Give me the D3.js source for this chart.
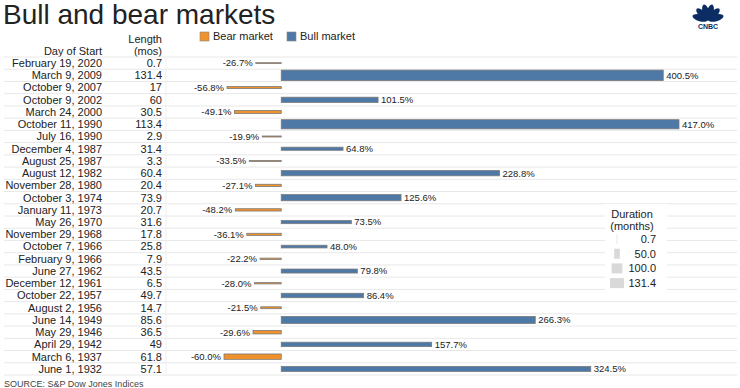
<!DOCTYPE html>
<meta charset="utf-8">
<html>
<head>
  <script src="https://d3js.org/d3.v7.min.js"></script>
</head>
<style>
body { margin: 0; background: white; }
text { font-family: "Liberation Sans", Arial, sans-serif; fill: #222; }
</style>
<body>
<div id="container"></div>
<script type="text/javascript">

var dates = ["February 19, 2020","March 9, 2009","October 9, 2007","October 9, 2002","March 24, 2000",
  "October 11, 1990","July 16, 1990","December 4, 1987","August 25, 1987","August 12, 1982",
  "November 28, 1980","October 3, 1974","January 11, 1973","May 26, 1970","November 29, 1968",
  "October 7, 1966","February 9, 1966","June 27, 1962","December 12, 1961","October 22, 1957",
  "August 2, 1956","June 14, 1949","May 29, 1946","April 29, 1942","March 6, 1937","June 1, 1932"]
var lengths = [0.7,131.4,17,60,30.5,113.4,2.9,31.4,3.3,60.4,20.4,73.9,20.7,31.6,17.8,25.8,7.9,43.5,6.5,49.7,14.7,85.6,36.5,49,61.8,57.1]
var changes = [-26.7,400.5,-56.8,101.5,-49.1,417.0,-19.9,64.8,-33.5,228.8,-27.1,125.6,-48.2,73.5,-36.1,48.0,-22.2,79.8,-28.0,86.4,-21.5,266.3,-29.6,157.7,-60.0,324.5]
var durationTicks = [0.7, 50, 100, 131.4]

var width = 740, height = 388
var rowTop = 57, rowBottom = 375
var bearColor = "#f0922b", bullColor = "#4e79a7"

var svg = d3.select("#container").append("svg")
  .attr("width", width).attr("height", height)

var rows = dates.map((d, i) => ({date: d, len: lengths[i], chg: changes[i]}))

var y = d3.scaleBand().domain(dates).range([rowTop, rowBottom])
var x = d3.scaleLinear().domain([-60, 417]).range([224, 679])
var thick = d3.scaleLinear().domain([0, 131.4]).range([0.8, 10.5])

// title
svg.append("text").attr("x", 3).attr("y", 24)
  .attr("font-size", "28px").text("Bull and bear markets")

// column headers
svg.append("text").attr("x", 102).attr("y", 55).attr("text-anchor", "end")
  .attr("font-size", "11px").text("Day of Start")
svg.append("text").attr("x", 162).attr("y", 43).attr("text-anchor", "end")
  .attr("font-size", "11px").text("Length")
svg.append("text").attr("x", 162).attr("y", 55).attr("text-anchor", "end")
  .attr("font-size", "11px").text("(mos)")

// color legend
var legend = [{name: "Bear market", color: bearColor, x: 200}, {name: "Bull market", color: bullColor, x: 287}]
svg.selectAll(".lg").data(legend).enter().append("rect")
  .attr("x", d => d.x).attr("y", 32).attr("width", 9).attr("height", 9)
  .attr("fill", d => d.color).attr("stroke", "#888").attr("stroke-width", 0.6)
svg.selectAll(".lgt").data(legend).enter().append("text")
  .attr("x", d => d.x + 13).attr("y", 40).attr("font-size", "11px").text(d => d.name)

// gridlines
var bounds = dates.map(d => y(d)).concat([rowBottom])
svg.selectAll(".grid").data(bounds).enter().append("line")
  .attr("x1", 4).attr("x2", 737).attr("y1", d => d).attr("y2", d => d)
  .attr("stroke", "#e8e8e8").attr("stroke-width", 1)
svg.append("line").attr("x1", 166).attr("x2", 166).attr("y1", rowTop).attr("y2", rowBottom)
  .attr("stroke", "#efefef")

// row labels
svg.selectAll(".date").data(rows).enter().append("text")
  .attr("x", 102).attr("y", d => y(d.date) + y.bandwidth() / 2)
  .attr("dy", "0.35em").attr("text-anchor", "end").attr("font-size", "11px")
  .text(d => d.date)
svg.selectAll(".len").data(rows).enter().append("text")
  .attr("x", 162).attr("y", d => y(d.date) + y.bandwidth() / 2)
  .attr("dy", "0.35em").attr("text-anchor", "end").attr("font-size", "11px")
  .text(d => String(d.len))

// bars
svg.selectAll(".bar").data(rows).enter().append("rect")
  .attr("x", d => Math.min(x(0), x(d.chg)))
  .attr("width", d => Math.abs(x(d.chg) - x(0)))
  .attr("y", d => y(d.date) + y.bandwidth() / 2 - thick(d.len) / 2)
  .attr("height", d => thick(d.len))
  .attr("fill", d => d.chg < 0 ? bearColor : bullColor)
  .attr("stroke", "#7a7a7a").attr("stroke-width", 0.8)

svg.selectAll(".val").data(rows).enter().append("text")
  .attr("x", d => d.chg < 0 ? x(d.chg) - 3 : x(d.chg) + 3)
  .attr("y", d => y(d.date) + y.bandwidth() / 2)
  .attr("dy", "0.35em").attr("font-size", "9.5px")
  .attr("text-anchor", d => d.chg < 0 ? "end" : "start")
  .text(d => d.chg.toFixed(1) + "%")

// duration legend
var dl = svg.append("g")
dl.append("rect").attr("x", 605).attr("y", 204).attr("width", 62).attr("height", 88).attr("fill", "white")
dl.append("text").attr("x", 632).attr("y", 218).attr("text-anchor", "middle").attr("font-size", "11px").text("Duration")
dl.append("text").attr("x", 632).attr("y", 230).attr("text-anchor", "middle").attr("font-size", "11px").text("(months)")
var lw = d3.scaleLinear().domain([0, 131.4]).range([0.5, 14])
dl.selectAll(".dr").data(durationTicks).enter().append("rect")
  .attr("x", d => 617 - lw(d) / 2).attr("y", (d, i) => 234 + i * 14.7)
  .attr("width", d => lw(d)).attr("height", 10).attr("fill", "#d9d9d9")
dl.selectAll(".dt").data(durationTicks).enter().append("text")
  .attr("x", 656).attr("y", (d, i) => 239 + i * 14.7).attr("dy", "0.35em")
  .attr("text-anchor", "end").attr("font-size", "11px")
  .text(d => d.toFixed(1))

// CNBC peacock
var logo = svg.append("g").attr("transform", "translate(708,20)")
var feathers = [-75, -45, -15, 15, 45, 75]
logo.selectAll("ellipse").data(feathers).enter().append("ellipse")
  .attr("cx", 0).attr("cy", -8).attr("rx", 3.4).attr("ry", 8)
  .attr("fill", "#0b2d63")
  .attr("transform", d => "rotate(" + d + ")")
logo.append("text").attr("x", 0).attr("y", 9).attr("text-anchor", "middle")
  .attr("font-size", "7px").attr("font-weight", "bold").style("fill", "#0b2d63").text("CNBC")

// source line at the bottom edge
svg.append("text").attr("x", 4).attr("y", 387).attr("font-size", "9px")
  .style("fill", "#444").text("SOURCE: S&P Dow Jones Indices")

</script>
</body>
</html>
